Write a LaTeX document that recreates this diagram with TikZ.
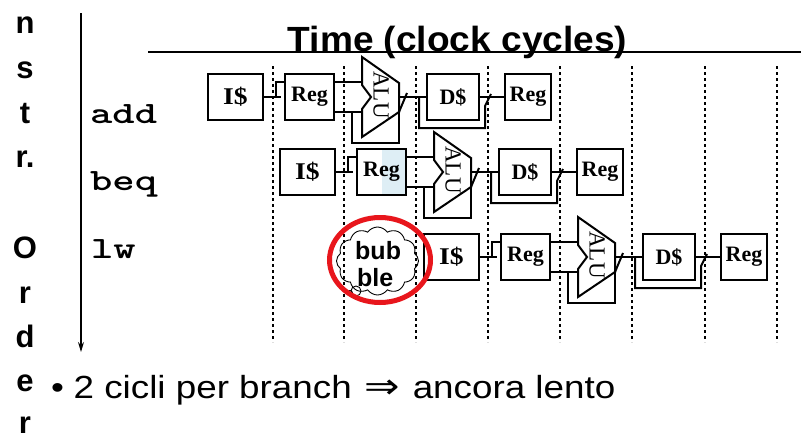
\documentclass[tikz,border=0pt]{standalone}
\usepackage{fontspec}
\setmainfont{Liberation Serif}
\setsansfont{Liberation Sans}
\newfontfamily\dejavu{DejaVu Sans}
\usetikzlibrary{shapes.symbols,shapes.geometric,arrows.meta}
\newcommand{\stx}[2]{\scalebox{#1}[1]{#2}}
\definecolor{regshade}{RGB}{222,238,245}
\definecolor{bubred}{RGB}{232,22,28}
\newcommand{\pipe}[4]{%
\begin{scope}[shift={(#2,#3)}]
  \coordinate (#1Ain1) at (362,82);
  \coordinate (#1Ain2) at (362,112);
  \coordinate (#1Aout) at (399,97);
  \coordinate (#1Aout2) at (399,112);
  \coordinate (#1fb) at (352,112);
  \coordinate (#1byp) at (419,97);
  \node[stagebox, minimum width=55pt] (#1IM) at (235.5,97) {\stx{1.15}{\fontsize{24}{24}\selectfont I\$}};
  \node[stagebox, minimum width=49pt, #4] (#1RA) at (309.5,97) {Reg};
  \node[stagebox, minimum width=52pt] (#1DM) at (453,97) {D\$};
  \node[stagebox, minimum width=46pt] (#1RB) at (528,97) {Reg};
  \draw[wire] (#1IM.east) -- ++(17,0);
  \draw[wire] ([xshift=12pt]#1IM.east) |- ([yshift=15pt]#1RA.west);
  \draw[wire] ([yshift=15pt]#1RA.east) -- (#1Ain1);
  \draw[wire] ([yshift=-15pt]#1RA.east) -- (#1Ain2);
  \draw[wire] (#1fb) -- ++(0,31) -| (#1Aout2);
  \draw[wire] (#1Aout) -- (#1DM.west);
  \draw[wire] (#1Aout2) -- ++(8,-19);
  \draw[wire] (#1byp) |- ++(66,31) -- ++(0,-22) -- ++(6,-12);
  \draw[wire] (#1DM.east) -- (#1RB.west);
  \draw[alushape] (362,57) -- (399,83) -- (399,112) -- (362,137) -- (362,109) -- (371,97) -- (362,85) -- cycle;
  \node[alutext] (#1ALU) at (381,95) {ALU};
\end{scope}}
\tikzset{
  stagebox/.style={draw, line width=2pt, fill=white, minimum height=46pt, inner sep=0pt,
    font=\bfseries\fontsize{22}{22}\selectfont},
  wire/.style={line width=2pt},
  alushape/.style={draw, line width=2pt, fill=white, line join=miter},
  alutext/.style={rotate=-90, inner sep=0pt, font=\fontsize{23}{23}\selectfont},
  tick/.style={line width=2.6pt, dash pattern=on 2.6pt off 3.4pt},
  instr/.style={anchor=base west, inner sep=0pt, font=\ttfamily\bfseries\fontsize{31}{31}\selectfont},
  vlet/.style={anchor=base, inner sep=0pt, font=\sffamily\bfseries\fontsize{31}{31}\selectfont},
  bubtext/.style={anchor=base west, inner sep=0pt, font=\sffamily\bfseries\fontsize{25}{25}\selectfont},
  shaderight/.style={path picture={\fill[regshade] (path picture bounding box.north) rectangle (path picture bounding box.south east);}},
}
\begin{document}
\begin{tikzpicture}[x=1pt,y=-1pt]
\useasboundingbox (0,0) rectangle (801,434);
\fill[white] (0,0) rectangle (801,434);
% dotted cycle boundaries
\foreach \x in {273,344,416,488,560,632,705,777}
  \draw[tick] (\x,66) -- (\x,342);
% title
\coordinate (tl) at (148,52);
\coordinate (tr) at (801,52);
\draw[line width=2pt] (tl) -- (tr);
\node[anchor=base, inner sep=0pt, font=\sffamily\bfseries\fontsize{35}{35}\selectfont] (title) at (457.5,51) {\stx{1.06}{Time (clock cycles)}};
% vertical label
\node[vlet] (v1) at (25,33) {n};
\node[vlet] (v2) at (25,78) {s};
\node[vlet] (v3) at (25,123) {t};
\node[vlet] (v4) at (25,167) {r.};
\node[vlet] (v5) at (25,258) {O};
\node[vlet] (v6) at (25,303) {r};
\node[vlet] (v7) at (25,347) {d};
\node[vlet] (v8) at (25,391) {e};
\node[vlet] (v9) at (25,433) {r};
% order arrow
\coordinate (atop) at (81,13);
\coordinate (abot) at (81,352);
\draw[line width=1.3pt, -{Stealth[length=10pt,width=6pt]}] (atop) -- (abot);
% instruction names
\node[instr] (iadd) at (90,123) {\stx{1.37}{add}};
\node[instr] (ibeq) at (90,190) {\stx{1.37}{beq}};
\node[instr] (ilw) at (91,258) {\stx{1.37}{lw}};
% pipelines
\pipe{a}{0}{0}{}
\pipe{b}{72}{75}{shaderight}
\pipe{c}{216}{160}{}
% bubble
\node[cloud, cloud puffs=12, cloud puff arc=110, aspect=1.2, draw, line width=0.9pt,
  minimum width=82pt, minimum height=68pt, inner sep=0pt] (cloud) at (377.5,261) {};
\draw[line width=0.9pt] (356,291) circle (5);
\draw[line width=0.9pt] (350,293) circle (2.5);
\node[bubtext] (bub1) at (355,259) {bub};
\node[bubtext] (bub2) at (357,286) {ble};
\node[ellipse, draw=bubred, line width=5pt, minimum width=101pt, minimum height=85pt, inner sep=0pt] (ring) at (380,260) {};
% bullet text
\node[anchor=base west, inner sep=0pt, font=\sffamily\fontsize{32}{32}\selectfont] (bullet) at (51,398)
  {\stx{1.15}{\textbullet\hspace{0.26em}2 cicli per branch \makebox[1.1em]{\dejavu\scalebox{1.15}[1.1]{⇒}} ancora lento}};
\end{tikzpicture}
\end{document}
